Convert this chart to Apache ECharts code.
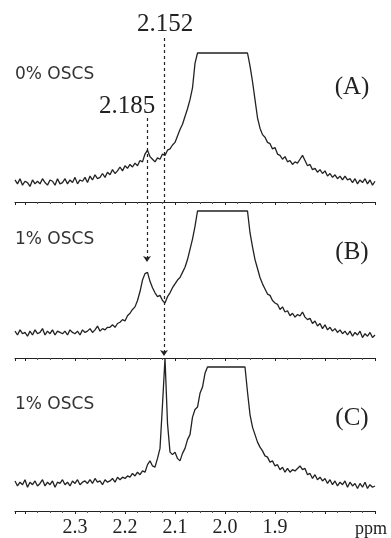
<!DOCTYPE html>
<html><head><meta charset="utf-8">
<script src="https://cdn.jsdelivr.net/npm/echarts@6/dist/echarts.min.js"></script>
<style>html,body{margin:0;padding:0;background:#fff}#c{width:391px;height:538px}</style>
</head><body><div id="c"></div>
<script>
// sampling grid of the spectra (ppm, drawn axis units)
const ppmStart = 2.42;
const ppmStep = 0.005;
// (A) 0% OSCS
const spectrumA = [2,-1,3,-2,1,0,-3,2,-1,1,
  -1,3,0,-2,2,1,-2,3,-1,0,
  3,-1,2,0,4,-1,2,1,4,0,
  5,2,6,3,4,
  7,4,8,6,10,7,9,
  12,9,13,11,14,12,
  15,13,17,16,22,25,20,18,16,19,18,22,21,25,26,29,31,36,41,45,51,57,64,73,92,
  100,100,100,100,100,100,100,100,100,100,100,100,100,100,100,100,100,100,100,100,100,
  90,78,64,50,42,37,35,31,30,26,27,22,21,18,20,16,17,14,16,15,18,21,17,13,14,10,11,8,10,7,
  9,5,7,4,6,3,5,2,5,2,3,0,3,-1,2,0,3,-1,2,-2,1];
// (B) 1% OSCS
const spectrumB = [6,3,7,4,5,2,6,3,7,4,
  5,8,3,6,4,7,3,6,5,4,
  6,3,7,5,4,6,3,7,5,6,
  8,5,7,10,6,8,7,9,
  9,11,9,12,13,15,14,18,20,23,25,30,37,46,51,52,45,40,36,33,34,30,28,33,36,40,43,46,48,52,56,62,70,78,88,
  100,100,100,100,100,100,100,100,100,100,100,100,100,100,100,100,100,100,100,100,100,
  83,72,62,55,48,43,39,35,34,30,28,27,23,25,21,22,18,20,17,19,18,21,17,15,16,12,14,10,12,8,
  11,7,9,6,8,5,7,4,6,3,6,2,5,3,6,1,4,2,5,1,3];
// (C) 1% OSCS
const spectrumC = [9,5,8,6,10,4,8,6,9,5,
  7,10,5,8,6,9,4,8,7,10,
  6,8,5,9,7,10,6,8,9,7,
  10,7,11,8,9,6,10,8,
  9,11,8,12,10,12,11,13,12,15,13,16,14,17,16,22,25,21,20,27,35,70,107,55,32,30,32,27,25,31,35,42,46,60,66,68,79,84,95,
  100,100,100,100,100,100,100,100,100,100,100,100,100,100,100,100,
  80,62,52,46,40,36,33,29,28,24,25,21,22,18,20,16,19,16,18,17,19,21,18,19,14,15,11,14,10,12,
  9,11,7,10,6,9,5,8,6,9,4,8,5,7,3,7,4,8,3,6,4,5];
const sampleLabels = ['0% OSCS', '1% OSCS', '1% OSCS'];
const panelLabels = ['(A)', '(B)', '(C)'];
const tickValues = [2.3, 2.2, 2.1, 2.0, 1.9];
const tickLabels = ['2.3', '2.2', '2.1', '2.0', '1.9'];
const unitLabel = 'ppm';
const peakLabels = ['2.185', '2.152'];
const peakPositions = [2.156, 2.122];

const toPairs = arr => arr.map((v, i) => [+(ppmStart - i * ppmStep).toFixed(3), v]);
const spectra = [spectrumA, spectrumB, spectrumC];

const grids = [
  {left: 15, right: 16, top: 53, bottom: 336},
  {left: 15, right: 16, top: 211, bottom: 180},
  {left: 15, right: 16, top: 367, bottom: 25},
  {left: 15, right: 16, top: 0, bottom: 0}
];
const serif = 'Liberation Serif';
const ink = '#222';

function xAxis(i, showLabels) {
  return {
    type: 'value', gridIndex: i, min: 1.7, max: 2.42, inverse: true, interval: 0.1,
    show: i < 3,
    axisLine: {show: true, onZero: false, lineStyle: {color: ink, width: 1.2}},
    axisTick: {show: true, length: 3, lineStyle: {color: ink}},
    minorTick: {show: true, splitNumber: 4, length: 2, lineStyle: {color: '#555'}},
    splitLine: {show: false},
    minorSplitLine: {show: false},
    axisLabel: {
      show: showLabels, margin: 7, color: ink, fontFamily: serif, fontSize: 20,
      formatter: v => {
        const k = tickValues.findIndex(t => Math.abs(t - v) < 1e-6);
        return k >= 0 ? tickLabels[k] : '';
      }
    }
  };
}

const option = {
  animation: false,
  backgroundColor: '#fff',
  grid: grids,
  xAxis: [xAxis(0, false), xAxis(1, false), xAxis(2, true), xAxis(3, false)],
  yAxis: [0, 1, 2].map(i => ({type: 'value', gridIndex: i, min: -15, max: 100, show: false}))
    .concat([{type: 'value', gridIndex: 3, min: 0, max: 538, inverse: true, show: false}]),
  series: spectra.map((s, i) => ({
    type: 'line', xAxisIndex: i, yAxisIndex: i, data: toPairs(s),
    showSymbol: false, symbol: 'none', clip: false,
    lineStyle: {color: ink, width: 1.3}
  })).concat([{
    type: 'lines', coordinateSystem: 'cartesian2d', xAxisIndex: 3, yAxisIndex: 3,
    symbol: ['none', 'arrow'], symbolSize: 6,
    lineStyle: {color: ink, width: 1.2, type: [3, 3], opacity: 1},
    data: [
      {coords: [[peakPositions[0], 118], [peakPositions[0], 262]]},
      {coords: [[peakPositions[1], 38], [peakPositions[1], 356]]}
    ]
  }]),
  graphic: [
    {type: 'text', x: 165, y: 24, style: {text: peakLabels[1], fill: ink, font: '25px "Liberation Serif"', textAlign: 'center', textVerticalAlign: 'middle'}},
    {type: 'text', x: 127, y: 106, style: {text: peakLabels[0], fill: ink, font: '25px "Liberation Serif"', textAlign: 'center', textVerticalAlign: 'middle'}},
    {type: 'text', x: 15, y: 75, style: {text: sampleLabels[0], fill: '#333', font: '17px "DejaVu Sans"', textAlign: 'left', textVerticalAlign: 'middle'}},
    {type: 'text', x: 15, y: 240, style: {text: sampleLabels[1], fill: '#333', font: '17px "DejaVu Sans"', textAlign: 'left', textVerticalAlign: 'middle'}},
    {type: 'text', x: 15, y: 405, style: {text: sampleLabels[2], fill: '#333', font: '17px "DejaVu Sans"', textAlign: 'left', textVerticalAlign: 'middle'}},
    {type: 'text', x: 352, y: 87, style: {text: panelLabels[0], fill: ink, font: '25px "Liberation Serif"', textAlign: 'center', textVerticalAlign: 'middle'}},
    {type: 'text', x: 352, y: 252, style: {text: panelLabels[1], fill: ink, font: '25px "Liberation Serif"', textAlign: 'center', textVerticalAlign: 'middle'}},
    {type: 'text', x: 352, y: 418, style: {text: panelLabels[2], fill: ink, font: '25px "Liberation Serif"', textAlign: 'center', textVerticalAlign: 'middle'}},
    {type: 'text', x: 371, y: 529, style: {text: unitLabel, fill: ink, font: '18px "Liberation Serif"', textAlign: 'center', textVerticalAlign: 'middle'}}
  ]
};
const chart = echarts.init(document.getElementById('c'), null, {renderer: 'canvas'});
chart.setOption(option);
</script>
</body></html>
